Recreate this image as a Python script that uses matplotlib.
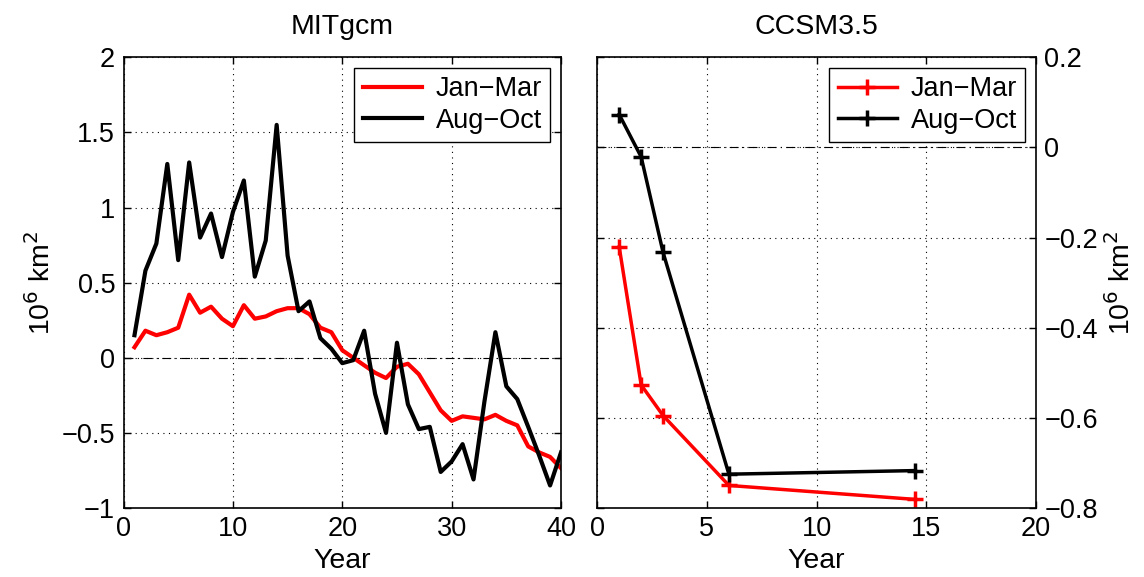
import matplotlib
matplotlib.use("Agg")
import matplotlib.pyplot as plt
import numpy as np

plt.rcParams['font.family'] = ['Liberation Sans', 'DejaVu Sans']

# ---- Data ----
years_mit = list(range(1, 41))
mit_janmar = [0.07, 0.18, 0.15, 0.17, 0.20, 0.42, 0.30, 0.34, 0.26, 0.21,
              0.35, 0.26, 0.275, 0.31, 0.33, 0.33, 0.29, 0.20, 0.17, 0.05,
              0.00, -0.05, -0.10, -0.135, -0.06, -0.04, -0.11, -0.23, -0.35, -0.42,
              -0.39, -0.40, -0.41, -0.38, -0.42, -0.45, -0.59, -0.63, -0.66, -0.735]
mit_augoct = [0.15, 0.58, 0.76, 1.29, 0.65, 1.30, 0.80, 0.96, 0.67, 0.97,
              1.18, 0.54, 0.78, 1.55, 0.68, 0.31, 0.375, 0.13, 0.06, -0.036,
              -0.016, 0.18, -0.24, -0.50, 0.10, -0.31, -0.475, -0.46, -0.76, -0.69,
              -0.575, -0.81, -0.29, 0.17, -0.19, -0.275, -0.46, -0.65, -0.85, -0.63]

years_ccsm = [1, 2, 3, 6, 14.5]
ccsm_janmar = [-0.221, -0.527, -0.595, -0.750, -0.781]
ccsm_augoct = [0.073, -0.021, -0.233, -0.725, -0.717]

legend_labels = ['Jan\u2212Mar', 'Aug\u2212Oct']
titles = ['MITgcm', 'CCSM3.5']
ylabel = r'10$^6$ km$^2$'
xlabel = 'Year'

fig = plt.figure(figsize=(11.44, 5.77), dpi=100)
ax1 = fig.add_axes([0.108, 0.1196, 0.3824, 0.7811])
ax2 = fig.add_axes([0.5221, 0.1196, 0.3835, 0.7811])

tick_fs = 19.5
lab_fs = 20.5

def style(ax):
    ax.tick_params(direction='in', top=True, right=True, labelsize=tick_fs,
                   length=5, width=1, pad=6)
    for s in ax.spines.values():
        s.set_linewidth(1.2)
    ax.grid(True, color='black', linestyle=(0, (1, 4)), linewidth=0.8)

# Left panel
ax1.plot(years_mit, mit_janmar, color='red', lw=3, label=legend_labels[0])
ax1.plot(years_mit, mit_augoct, color='black', lw=3, label=legend_labels[1])
ax1.axhline(0, color='black', lw=0.8, linestyle=(0, (8, 4, 1, 4)), zorder=1)
ax1.set_xlim(0, 40)
ax1.set_ylim(-1, 2)
ax1.set_xticks([0, 10, 20, 30, 40])
ax1.set_yticks([-1, -0.5, 0, 0.5, 1, 1.5, 2])
ax1.set_yticklabels(['\u22121', '\u22120.5', '0', '0.5', '1', '1.5', '2'])
style(ax1)
ax1.set_title(titles[0], fontsize=lab_fs, pad=17)
ax1.set_xlabel(xlabel, fontsize=lab_fs, labelpad=4)
ax1.set_ylabel(ylabel, fontsize=lab_fs, labelpad=4)
leg1 = ax1.legend(loc='upper right', fontsize=19.5, fancybox=False, framealpha=1,
                  edgecolor='black', handlelength=2.2, borderpad=0.3,
                  labelspacing=0.2, handletextpad=0.5, borderaxespad=0.4)
leg1.get_frame().set_linewidth(1.0)

# Right panel
ax2.plot(years_ccsm, ccsm_janmar, color='red', lw=2.5, marker='+', ms=11,
         mew=2.5, label=legend_labels[0])
ax2.plot(years_ccsm, ccsm_augoct, color='black', lw=2.5, marker='+', ms=11,
         mew=2.5, label=legend_labels[1])
ax2.axhline(0, color='black', lw=0.8, linestyle=(0, (8, 4, 1, 4)), zorder=1)
ax2.set_xlim(0, 20)
ax2.set_ylim(-0.8, 0.2)
ax2.set_xticks([0, 5, 10, 15, 20])
ax2.set_yticks([-0.8, -0.6, -0.4, -0.2, 0, 0.2])
ax2.set_yticklabels(['\u22120.8', '\u22120.6', '\u22120.4', '\u22120.2', '0', '0.2'])
style(ax2)
ax2.yaxis.tick_right()
ax2.tick_params(axis='y', left=True, right=True, labelleft=False, labelright=True,
                direction='in')
ax2.yaxis.set_label_position('right')
ax2.set_title(titles[1], fontsize=lab_fs, pad=17)
ax2.set_xlabel(xlabel, fontsize=lab_fs, labelpad=4)
ax2.set_ylabel(ylabel, fontsize=lab_fs, labelpad=6)
leg2 = ax2.legend(loc='upper right', fontsize=19.5, fancybox=False, framealpha=1,
                  edgecolor='black', handlelength=2.2, borderpad=0.3,
                  labelspacing=0.2, handletextpad=0.5, borderaxespad=0.4)
leg2.get_frame().set_linewidth(1.0)

fig.savefig('out.png', dpi=100)
